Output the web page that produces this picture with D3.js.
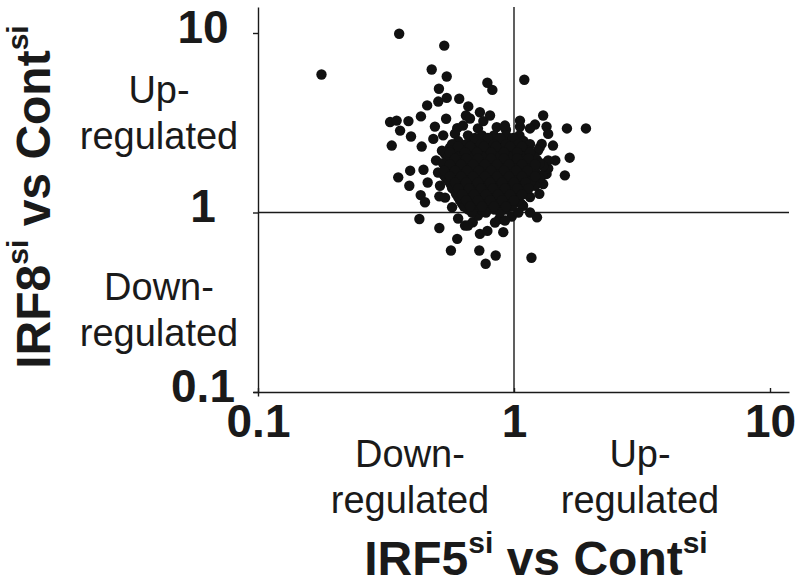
<!DOCTYPE html>
<html>
<head>
<meta charset="utf-8">
<script src="https://cdn.jsdelivr.net/npm/d3@7"></script>
<style>
  html, body { margin: 0; padding: 0; background: #fff; }
  svg { display: block; font-family: "Liberation Sans", Arial, sans-serif; }
</style>
</head>
<body>
<svg id="chart" width="800" height="584"></svg>
<script>
// ---- data (fold change, IRF5si vs Contsi = x, IRF8si vs Contsi = y) ----
const outlierX = [0.356, 0.534, 0.177, 0.477, 0.546, 0.787, 0.823, 1.097, 0.509, 0.546, 0.611, 0.506, 0.458, 0.663, 0.736, 0.649, 0.433, 0.543, 0.328, 0.348, 0.387, 0.759, 0.491, 0.60, 0.856, 0.93, 1.055, 1.208, 1.30, 1.34, 0.359, 0.396, 0.333, 0.436, 0.529, 0.484, 1.283, 1.36];
const outlierY = [9.9, 8.5, 5.87, 6.26, 5.72, 5.28, 4.82, 5.49, 4.89, 4.35, 4.30, 4.15, 3.95, 3.90, 3.62, 3.47, 3.43, 3.33, 3.19, 3.25, 3.23, 3.23, 3.01, 2.95, 2.99, 2.89, 3.01, 3.09, 3.47, 3.01, 2.86, 2.65, 2.36, 2.33, 2.69, 2.57, 2.41, 2.74];

const lowerX = [0.353, 0.393, 0.443, 0.39, 0.46, 0.432, 0.449, 0.511, 0.427, 0.511, 0.60, 0.567, 0.644, 0.69, 0.736, 0.787, 0.732, 0.775, 0.848, 0.876, 0.908, 0.98, 1.04, 1.23, 1.17, 1.256, 1.21, 1.30, 1.30, 1.34, 1.65, 1.58, 1.61, 1.91, 1.45, 1.36, 1.42];
const lowerY = [1.57, 1.71, 1.73, 1.41, 1.47, 1.25, 1.14, 1.23, 0.92, 0.82, 0.713, 0.614, 0.846, 0.883, 0.76, 0.79, 0.614, 0.518, 0.576, 0.92, 0.777, 0.95, 1.0, 0.94, 0.56, 1.27, 1.41, 1.44, 1.87, 1.64, 2.02, 1.61, 2.94, 2.94, 1.95, 1.76, 2.36];

const edgeX = [0.632, 0.673, 0.723, 0.588, 0.496, 0.505, 0.514, 0.538, 0.573, 0.605, 0.661, 0.723, 0.843, 0.922, 1.085, 1.155, 1.29, 1.36, 1.155, 1.055, 0.922, 0.806];
const edgeY = [3.05, 3.34, 2.94, 2.75, 1.95, 1.67, 1.41, 1.21, 1.07, 0.926, 0.846, 0.962, 0.88, 0.902, 1.09, 1.0, 1.61, 1.95, 2.94, 3.25, 3.05, 3.47];

const clusterX = [
  0.661, 0.750, 0.835, 0.931, 1.05,
  0.605, 0.698, 0.791, 0.882, 0.982, 1.09,
  0.562, 0.633, 0.723, 0.806, 0.906, 1.02, 1.14, 1.26,
  0.538, 0.594, 0.661, 0.743, 0.835, 0.947, 1.07, 1.19,
  0.562, 0.621, 0.698, 0.777, 0.874, 0.982, 1.10, 1.23,
  0.538, 0.588, 0.655, 0.729, 0.820, 0.922, 1.04, 1.155, 1.30,
  0.557, 0.615, 0.685, 0.763, 0.858, 0.965, 1.085, 1.21,
  0.543, 0.594, 0.661, 0.736, 0.820, 0.914, 1.02, 1.13, 1.26,
  0.567, 0.633, 0.704, 0.784, 0.874, 0.973, 1.085, 1.20,
  0.588, 0.650, 0.723, 0.806, 0.898, 1.00, 1.11,
  0.605, 0.673, 0.750, 0.835, 0.931, 1.04, 1.155,
  0.627, 0.698, 0.777, 0.866, 0.965, 1.065,
  0.661, 0.743, 0.835, 0.931
];
const clusterY = [
  2.69, 2.69, 2.69, 2.69, 2.69,
  2.50, 2.50, 2.50, 2.50, 2.50, 2.50,
  2.30, 2.30, 2.30, 2.30, 2.30, 2.30, 2.30, 2.30,
  2.12, 2.12, 2.12, 2.12, 2.12, 2.12, 2.12, 2.12,
  1.96, 1.96, 1.96, 1.96, 1.96, 1.96, 1.96, 1.96,
  1.81, 1.81, 1.81, 1.81, 1.81, 1.81, 1.81, 1.81, 1.81,
  1.68, 1.68, 1.68, 1.68, 1.68, 1.68, 1.68, 1.68,
  1.55, 1.55, 1.55, 1.55, 1.55, 1.55, 1.55, 1.55, 1.55,
  1.43, 1.43, 1.43, 1.43, 1.43, 1.43, 1.43, 1.43,
  1.32, 1.32, 1.32, 1.32, 1.32, 1.32, 1.32,
  1.22, 1.22, 1.22, 1.22, 1.22, 1.22, 1.22,
  1.12, 1.12, 1.12, 1.12, 1.12, 1.12,
  1.04, 1.04, 1.04, 1.04
];

const coreX = [
  0.704, 0.791, 0.882, 0.991,
  0.573, 0.650, 0.743, 0.835, 0.931, 1.04, 1.155,
  0.523, 0.573, 0.627, 0.698, 0.784, 0.882, 1.00, 1.125, 1.24,
  0.553, 0.605, 0.673, 0.757, 0.850, 0.965, 1.085, 1.20,
  0.528, 0.588, 0.650, 0.723, 0.806, 0.906, 1.01, 1.13, 1.26,
  0.562, 0.621, 0.692, 0.770, 0.866, 0.965, 1.075, 1.20,
  0.533, 0.588, 0.650, 0.723, 0.806, 0.906, 1.02, 1.13,
  0.557, 0.615, 0.685, 0.763, 0.850, 0.947, 1.055, 1.165,
  0.573, 0.633, 0.704, 0.784, 0.874, 0.973, 1.085,
  0.594, 0.655, 0.729, 0.813, 0.906, 1.01, 1.125,
  0.615, 0.679, 0.757, 0.843, 0.939, 1.04,
  0.638, 0.710, 0.791, 0.882, 0.982,
  0.685, 0.777, 0.882
];
const coreY = [
  2.60, 2.60, 2.60, 2.60,
  2.40, 2.40, 2.40, 2.40, 2.40, 2.40, 2.40,
  2.21, 2.21, 2.21, 2.21, 2.21, 2.21, 2.21, 2.21, 2.21,
  2.04, 2.04, 2.04, 2.04, 2.04, 2.04, 2.04, 2.04,
  1.88, 1.88, 1.88, 1.88, 1.88, 1.88, 1.88, 1.88, 1.88,
  1.74, 1.74, 1.74, 1.74, 1.74, 1.74, 1.74, 1.74,
  1.61, 1.61, 1.61, 1.61, 1.61, 1.61, 1.61, 1.61,
  1.49, 1.49, 1.49, 1.49, 1.49, 1.49, 1.49, 1.49,
  1.37, 1.37, 1.37, 1.37, 1.37, 1.37, 1.37,
  1.27, 1.27, 1.27, 1.27, 1.27, 1.27, 1.27,
  1.17, 1.17, 1.17, 1.17, 1.17, 1.17,
  1.08, 1.08, 1.08, 1.08, 1.08,
  1.00, 1.00, 1.00
];

const denseX = [
  0.605, 0.673, 0.763, 0.850, 0.965, 1.075,
  0.562, 0.644, 0.717, 0.813, 0.914, 1.03, 1.155,
  0.588, 0.650, 0.723, 0.813, 0.914, 1.03, 1.14,
  0.562, 0.621, 0.692, 0.770, 0.858, 0.956, 1.075, 1.21,
  0.533, 0.588, 0.655, 0.729, 0.813, 0.914, 1.02, 1.13,
  0.562, 0.621, 0.692, 0.770, 0.858, 0.956, 1.075, 1.21,
  0.588, 0.650, 0.723, 0.806, 0.898, 1.00, 1.11,
  0.605, 0.667, 0.743, 0.828, 0.922, 1.03, 1.14,
  0.627, 0.698, 0.777, 0.866, 0.965, 1.075,
  0.650, 0.723, 0.806, 0.898, 1.00,
  0.673, 0.750, 0.835, 0.931
];
const denseY = [
  2.33, 2.33, 2.33, 2.33, 2.33, 2.33,
  2.16, 2.16, 2.16, 2.16, 2.16, 2.16, 2.16,
  2.00, 2.00, 2.00, 2.00, 2.00, 2.00, 2.00,
  1.85, 1.85, 1.85, 1.85, 1.85, 1.85, 1.85, 1.85,
  1.71, 1.71, 1.71, 1.71, 1.71, 1.71, 1.71, 1.71,
  1.59, 1.59, 1.59, 1.59, 1.59, 1.59, 1.59, 1.59,
  1.47, 1.47, 1.47, 1.47, 1.47, 1.47, 1.47,
  1.36, 1.36, 1.36, 1.36, 1.36, 1.36, 1.36,
  1.26, 1.26, 1.26, 1.26, 1.26, 1.26,
  1.17, 1.17, 1.17, 1.17, 1.17,
  1.08, 1.08, 1.08, 1.08
];

const tickValues = [0.1, 1, 10];
const tickLabels = ["0.1", "1", "10"];

// ---- build ----
const points = [];
[[outlierX, outlierY], [lowerX, lowerY], [edgeX, edgeY], [clusterX, clusterY], [coreX, coreY], [denseX, denseY]].forEach(([xs, ys]) => {
  xs.forEach((v, i) => points.push({ x: v, y: ys[i] }));
});

const svg = d3.select("#chart");
const x = d3.scaleLog().domain([0.1, 10]).range([258, 770]);
const y = d3.scaleLog().domain([0.1, 10]).range([392, 33]);

const xAxisScale = x.copy().domain([x.invert(253), x.invert(789)]).range([253, 789]);
const yAxisScale = y.copy().domain([y.invert(396), y.invert(7)]).range([396, 7]);

const ink = "#1a1a1a";

// x axis
const gx = svg.append("g").attr("transform", "translate(0,392)")
  .call(d3.axisBottom(xAxisScale).tickValues(tickValues)
    .tickFormat((d, i) => tickLabels[i])
    .tickSizeInner(-4).tickSizeOuter(0).tickPadding(12));
gx.select(".domain").attr("stroke", ink).attr("stroke-width", 1.4);
gx.selectAll(".tick line").attr("stroke", ink).attr("stroke-width", 1.4);
gx.selectAll(".tick text").attr("font-size", 46).attr("font-weight", "bold")
  .attr("font-family", "'Liberation Sans', Arial, sans-serif").attr("fill", ink);

// y axis
const gy = svg.append("g").attr("transform", "translate(258,0)")
  .call(d3.axisLeft(yAxisScale).tickValues(tickValues)
    .tickFormat((d, i) => tickLabels[i])
    .tickSizeInner(5).tickSizeOuter(0).tickPadding(8));
gy.select(".domain").attr("stroke", ink).attr("stroke-width", 1.4);
gy.selectAll(".tick line").attr("stroke", ink).attr("stroke-width", 1.4);
gy.selectAll(".tick text").attr("font-size", 46).attr("font-weight", "bold")
  .attr("font-family", "'Liberation Sans', Arial, sans-serif").attr("fill", ink)
  .attr("text-anchor", "middle").attr("x", -55).attr("dy", "0.2em");

// reference lines at 1
svg.append("line").attr("x1", x(1)).attr("x2", x(1))
  .attr("y1", yAxisScale(yAxisScale.domain()[1])).attr("y2", y(0.1))
  .attr("stroke", ink).attr("stroke-width", 1.4);
svg.append("line").attr("x1", x(0.1)).attr("x2", xAxisScale(xAxisScale.domain()[1]))
  .attr("y1", y(1)).attr("y2", y(1))
  .attr("stroke", ink).attr("stroke-width", 1.4);

// points
svg.append("g").selectAll("circle").data(points).join("circle")
  .attr("cx", d => x(d.x)).attr("cy", d => y(d.y)).attr("r", 5.2)
  .attr("fill", "#111");

// region labels
function twoLine(cx, baseline, l1, l2) {
  const t = svg.append("text").attr("text-anchor", "middle")
    .attr("font-size", 38).attr("fill", ink);
  t.append("tspan").attr("x", cx).attr("y", baseline).text(l1);
  t.append("tspan").attr("x", cx).attr("y", baseline + 46).text(l2);
}
twoLine(159, 103, "Up-", "regulated");
twoLine(159, 300, "Down-", "regulated");
twoLine(410, 467, "Down-", "regulated");
twoLine(640, 467, "Up-", "regulated");

// axis titles
function title(g, main1, main2) {
  const t = g.append("text").attr("text-anchor", "middle")
    .attr("font-size", 48).attr("font-weight", "bold").attr("fill", ink);
  t.append("tspan").text(main1);
  t.append("tspan").attr("font-size", 30).attr("dy", -22).text("si");
  t.append("tspan").attr("dy", 22).text(main2);
  t.append("tspan").attr("font-size", 30).attr("dy", -22).text("si");
  return t;
}
title(svg.append("g").attr("transform", "translate(536,575)"), "IRF5", " vs Cont");
title(svg.append("g").attr("transform", "translate(50,197) rotate(-90)"), "IRF8", " vs Cont");
</script>
</body>
</html>
